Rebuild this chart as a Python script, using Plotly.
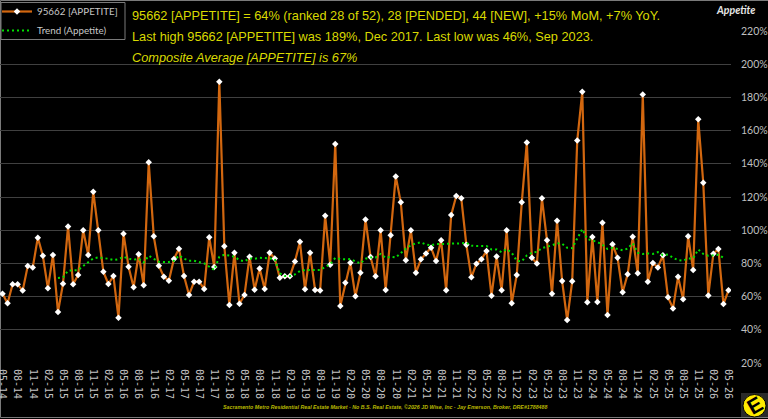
import plotly.graph_objects as go

WIDTH, HEIGHT = 768, 419
MARGIN = dict(l=0, r=37, t=31, b=56, autoexpand=False)

months = ["05", "06", "07", "08", "09", "10", "11", "12", "01", "02", "03", "04"]
periods = []
for year_offset in range(13):
    for m_idx, mm in enumerate(months):
        yy = 14 + year_offset + (1 if m_idx >= 8 else 0)
        periods.append(f"{mm}-{yy}")
periods = periods[:145]
tick_labels = periods[::3]

appetite = [
    61.7, 56, 67.4, 67.4, 63.6, 78.4, 77.6, 95.5, 84.6, 65, 85, 50.7, 67.8, 102.3, 67.4, 73,
    100, 85, 123.2, 100, 75, 67.6, 72.4, 47.3, 97.9, 78, 65.6, 85.5, 66.8, 140.9, 96.3, 78.6,
    72, 69.6, 82.7, 88.9, 72.4, 61, 69, 69, 64.6, 95.7, 77.8, 189.5, 90.3, 55, 86.4, 55.7,
    61, 84, 64.2, 77, 64.6, 86.4, 83, 71.4, 72.2, 72.2, 81.2, 93, 64.4, 86.4, 64, 63.6,
    108.7, 79.2, 152, 54.3, 68.4, 80.4, 60.2, 74.4, 106.5, 83.9, 72.2, 100, 64, 96.9, 132.4, 116.8,
    81.9, 100, 74.4, 82.5, 86, 89.5, 81.4, 94, 63.8, 109.2, 120.6, 119.2, 91.3, 71.6, 79.8, 82.5,
    87.5, 60.5, 84.2, 63.8, 100, 56, 73, 116.8, 152.9, 83.4, 80, 119.2, 93.9, 61.7, 105.7, 69.4,
    45.9, 69.2, 154, 183.4, 56.6, 95.9, 56.7, 104.5, 48.9, 91.5, 83.4, 62.6, 73.4, 96, 74, 181.8,
    69, 80.2, 77.6, 84.9, 59.6, 52.9, 72, 58.4, 96.3, 76, 166.8, 128.6, 60.7, 85.8, 88.7, 55.5,
    63.8,
]

trend = [None] * 11 + [
    71.2, 71.6, 75.6, 75.6, 76, 78.4, 80.6, 83, 83.6, 83.3, 82.8, 82, 82.5, 84, 82.8, 82.2,
    82.8, 80.6, 84.6, 82.8, 81, 80.8, 80.8, 81.6, 84.8, 82.8, 81.6, 81.6, 80.8, 80, 78, 76,
    84, 85.2, 84.8, 84, 82, 81.2, 83, 82.8, 83.4, 83.4, 83, 82.6, 74, 72.4, 72.4, 73.4,
    75.4, 76, 76.2, 76, 76, 78, 79.6, 83.3, 82.6, 82.5, 82.6, 81.2, 80, 82.8, 83.6, 83.6,
    85.7, 83.3, 84, 83.6, 86.4, 88.9, 90.9, 92.1, 92.7, 91.3, 90.9, 91.7, 91.7, 91.7, 92.1, 91.7,
    92.1, 92.5, 90.7, 90.5, 90.7, 90.5, 88.4, 88.4, 86.8, 88.6, 86.4, 81.6, 81.2, 84.8, 86.4, 87,
    89.2, 90, 90.9, 92.1, 91.9, 89.4, 89.2, 95, 100.6, 94.7, 94, 92.9, 91.3, 88.7, 89.4, 88.7,
    87.9, 88.9, 92.1, 86.4, 85.7, 86, 85.7, 86.8, 85, 85.4, 83.4, 82, 81.6, 83, 83, 88.4,
    85.7, 84.6, 84.8, 85.2, 83.4, None,
]

headline_lines = [
    "95662 [APPETITE] = 64% (ranked 28 of 52), 28 [PENDED], 44 [NEW], +15% MoM, +7% YoY.",
    "Last high 95662 [APPETITE] was 189%, Dec 2017. Last low was 46%, Sep 2023.",
    "<i>Composite Average [APPETITE] is 67%</i>",
]
footer_text = ("Sacramento Metro Residential Real Estate Market - No B.S. Real Estate, "
               "©2026 JD Wise, Inc - Jay Emerson, Broker, DRE#1788488")

plot_w = WIDTH - MARGIN["l"] - MARGIN["r"]
plot_h = HEIGHT - MARGIN["t"] - MARGIN["b"]


def px(x):
    return (x - MARGIN["l"]) / plot_w


def py(y):
    return 1 - (y - MARGIN["t"]) / plot_h


fig = go.Figure()
fig.add_trace(go.Scatter(
    x=periods, y=appetite, name="95662 [APPETITE]", mode="lines+markers",
    line=dict(color="#D2670F", width=2.2),
    marker=dict(symbol="diamond", size=5, color="#FFFFFF", line=dict(width=0)),
))
fig.add_trace(go.Scatter(
    x=periods, y=trend, name="Trend (Appetite)", mode="lines",
    line=dict(color="#00E000", width=2, dash="2px,3px"),
))

fig.update_layout(
    width=WIDTH, height=HEIGHT, margin=MARGIN,
    paper_bgcolor="#000000", plot_bgcolor="#000000",
    showlegend=True,
    legend=dict(
        x=px(-3), y=py(-3), xanchor="left", yanchor="top",
        bgcolor="rgba(0,0,0,0)", borderwidth=0,
        font=dict(family="Lato", size=9.8, color="#C8C8C8"),
        itemwidth=30, tracegroupgap=0,
    ),
    xaxis=dict(
        type="category", categoryorder="array", categoryarray=periods, automargin=False,
        range=[-0.5, 144.5], tickmode="array", tickvals=tick_labels, ticktext=tick_labels,
        tickangle=90, showgrid=False, zeroline=False, showline=False, ticks="", ticklabelstandoff=5,
        tickfont=dict(family="DejaVu Sans Mono", size=10, color="#C4C4C4"),
    ),
    yaxis=dict(
        side="right", range=[20, 220], tickmode="linear", tick0=20, dtick=20, automargin=False,
        ticksuffix="%", showgrid=True, gridcolor="#404040", gridwidth=1,
        zeroline=False, showline=False, ticks="", ticklabelstandoff=9,
        tickfont=dict(family="Lato", size=10.5, color="#BFBFBF"),
    ),
    shapes=[
        # outer frame of the chart
        dict(type="rect", xref="paper", yref="paper", layer="below",
             x0=px(0.5), x1=px(WIDTH + 2), y0=py(0.5), y1=py(417.5),
             line=dict(color="#7A7A7A", width=1), fillcolor="rgba(0,0,0,0)"),
        # legend box
        dict(type="rect", xref="paper", yref="paper", layer="above",
             x0=px(1), x1=px(125), y0=py(2.5), y1=py(39.5),
             line=dict(color="#7A7A7A", width=1), fillcolor="#000000"),
        # logo badge
        dict(type="rect", xref="paper", yref="paper", layer="above",
             x0=px(741), x1=px(768), y0=py(393), y1=py(417),
             line=dict(width=0), fillcolor="#2A2A2A"),
        dict(type="circle", xref="paper", yref="paper", layer="above",
             x0=px(743), x1=px(766), y0=py(394.5), y1=py(417),
             line=dict(color="#000000", width=1), fillcolor="#FFEB00"),
    ],
)

for text, y in zip(headline_lines, [15.5, 36.5, 57.5]):
    fig.add_annotation(
        xref="paper", yref="paper", x=px(130), y=py(y), xanchor="left", yanchor="middle",
        text=text, showarrow=False, font=dict(family="Liberation Sans", size=12.75, color="#D9D900"),
    )
fig.add_annotation(
    xref="paper", yref="paper", x=px(735), y=py(10), xanchor="center", yanchor="middle",
    text="<b><i>Appetite</i></b>", showarrow=False,
    font=dict(family="Lato", size=10.5, color="#E6E6E6"),
)
fig.add_annotation(
    xref="paper", yref="paper", x=px(385), y=py(407), xanchor="center", yanchor="middle",
    text=f"<b><i>{footer_text}</i></b>", showarrow=False,
    font=dict(family="Liberation Sans", size=5.3, color="#B8B800"),
)
fig.add_annotation(
    xref="paper", yref="paper", x=px(754.5), y=py(405.5), xanchor="center", yanchor="middle",
    text="<b>E</b>", showarrow=False, textangle=-30,
    font=dict(family="Liberation Sans", size=21, color="#000000"),
)

fig.write_html("out.html")
